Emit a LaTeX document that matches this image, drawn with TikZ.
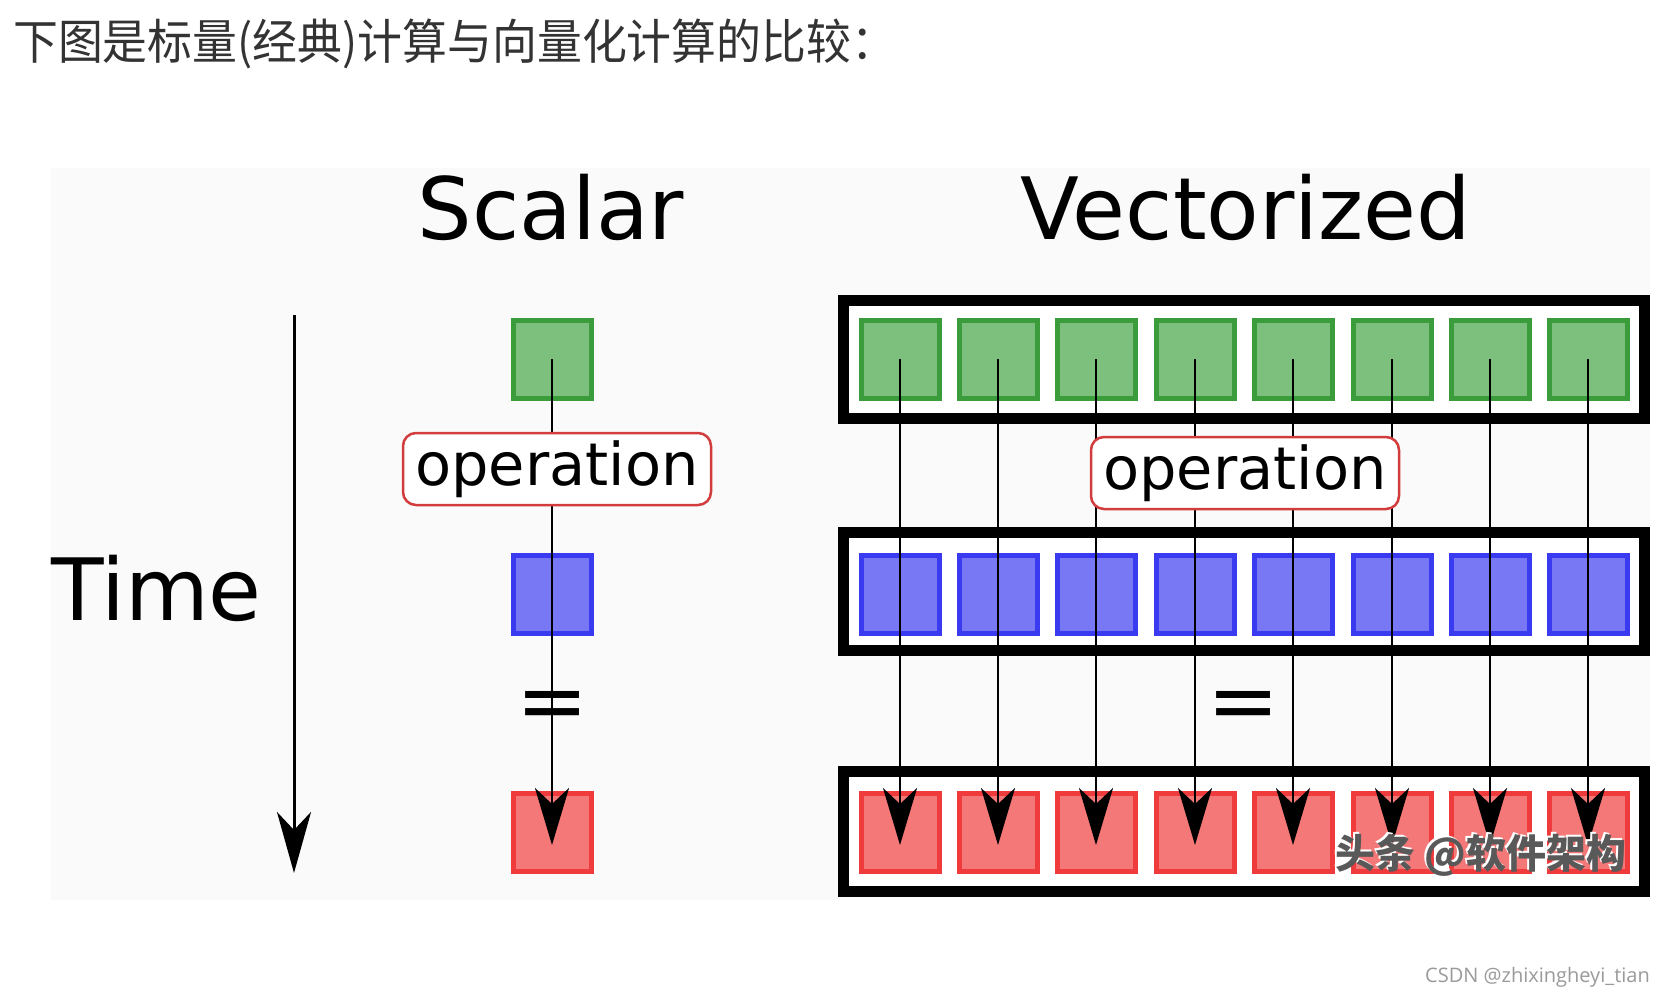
\documentclass[tikz,border=0pt]{standalone}
\usepackage{fontspec}
\setmainfont{DejaVu Sans}
\newfontfamily\cjkfont[FakeStretch=0.935]{Noto Sans CJK SC}
\newfontfamily\wmfont{Noto Sans CJK SC}
\newfontfamily\csdnfont{Open Sans}
\usetikzlibrary{arrows.meta,calc}
\definecolor{bggray}{HTML}{FAFAFA}
\definecolor{titlegray}{HTML}{333333}
\definecolor{gfill}{HTML}{7DBF7D}
\definecolor{gline}{HTML}{3B9C3B}
\definecolor{bfill}{HTML}{7878F5}
\definecolor{bline}{HTML}{3A3AF0}
\definecolor{rfill}{HTML}{F57878}
\definecolor{rline}{HTML}{EF3B3B}
\definecolor{opline}{HTML}{D23C3C}
\definecolor{csdngray}{HTML}{9A9A9A}
\begin{document}
\begin{tikzpicture}[x=1pt,y=-1pt,
  sq/.style={draw, line width=5pt, minimum size=78pt, inner sep=0pt, outer sep=0pt},
  gsq/.style={sq, fill=gfill, draw=gline},
  bsq/.style={sq, fill=bfill, draw=bline},
  rsq/.style={sq, fill=rfill, draw=rline},
  frame/.style={draw=black, fill=white, line width=11pt, minimum width=801pt, minimum height=118pt, inner sep=0pt, outer sep=0pt},
  opbox/.style={draw=opline, fill=white, line width=2.5pt, rounded corners=13pt, minimum width=308pt, minimum height=72pt, inner sep=0pt, font=\fontsize{59}{66}\selectfont},
  bigtext/.style={inner sep=0pt, font=\fontsize{86}{100}\selectfont},
  arr/.style={line width=2.8pt, -{Stealth[length=57pt,width=34pt,inset=16pt]}},
  eqsign/.style={inner sep=0pt, font=\fontsize{86}{100}\selectfont}
]
\useasboundingbox (0,0) rectangle (1664,995);
\fill[white] (0,0) rectangle (1664,995);
\fill[bggray] (51,168) rectangle (1650,900);

% title
\node[anchor=base west, inner sep=0pt, text=titlegray, font=\cjkfont\fontsize{48}{56}\selectfont] (title) at (13,60) {下图是标量(经典)计算与向量化计算的比较：};

% headings
\node[bigtext, anchor=base] (scalar) at (551,239) {Scalar};
\node[bigtext, anchor=base] (vect) at (1246,239) {Vectorized};
\node[bigtext, anchor=base west] (time) at (51,620) {Time};

% time arrow
\coordinate (t1) at (294,315);
\coordinate (t2) at (294,873);
\draw[line width=3pt, -{Stealth[length=61pt,width=34pt,inset=18pt]}] (t1) -- (t2);

% scalar column
\node[gsq] (sg) at (552,359) {};
\node[bsq] (sb) at (552,594) {};
\node[rsq] (sr) at (552,832) {};
\node[eqsign] (seq) at (553,711) {=};
\draw[arr] (sg.center) -- ([yshift=-13pt]sr.center);
\node[opbox] (sop) at (557,469) {operation};

% vectorized frames
\node[frame] (f1) at (1244,359.5) {};
\node[frame] (f2) at (1244,591.5) {};
\node[frame, minimum height=120pt] (f3) at (1244,831.5) {};

\foreach \i/\x in {1/900,2/998,3/1096,4/1195,5/1293,6/1392,7/1490,8/1588}{
  \node[gsq] (g\i) at (\x,359) {};
  \node[bsq] (b\i) at (\x,594) {};
  \node[rsq] (r\i) at (\x,832) {};
}
\foreach \i in {1,...,8}{
  \draw[arr] (g\i.center) -- ([yshift=-13pt]r\i.center);
}
\node[opbox] (vop) at (1245,473) {operation};
\node[eqsign] (veq) at (1244,711) {=};

% watermarks
\node[anchor=base west, inner sep=0pt, text=white, font=\wmfont\bfseries\fontsize{40}{46}\selectfont] (wm0) at (1333,866) {头条 @软件架构};
\node[anchor=base west, inner sep=0pt, text=black!65, font=\wmfont\bfseries\fontsize{40}{46}\selectfont] (wm) at (1335,868) {头条 @软件架构};
\node[anchor=base east, inner sep=0pt, text=csdngray, font=\csdnfont\fontsize{20}{24}\selectfont] (csdn) at (1650,982) {CSDN @zhixingheyi\_tian};
\end{tikzpicture}
\end{document}
